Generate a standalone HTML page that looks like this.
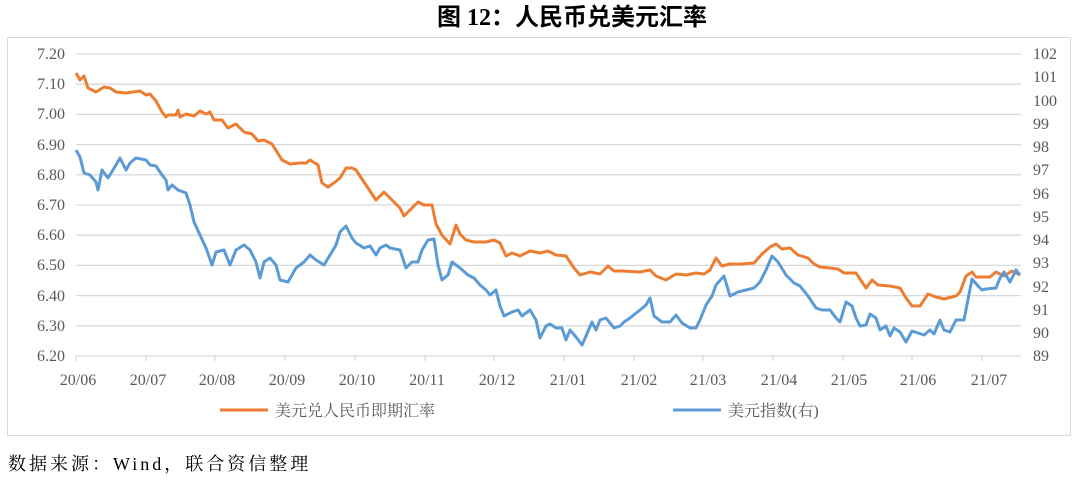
<!DOCTYPE html>
<html><head><meta charset="utf-8"><style>
body{margin:0;background:#fff;width:1080px;height:478px;overflow:hidden}
svg text{font-family:"Liberation Serif","Noto Serif CJK SC",serif;fill:#595959}
</style></head><body>
<svg width="1080" height="478" viewBox="0 0 1080 478">
<text x="572" y="25" text-anchor="middle" style="font-family:'Liberation Serif','Noto Sans CJK SC',sans-serif;font-weight:bold;font-size:24px;fill:#000">图 12：人民币兑美元汇率</text>
<rect x="7.5" y="37.5" width="1063" height="398" fill="none" stroke="#d9d9d9"/>
<g stroke="#d9d9d9" stroke-width="1.3">
<line x1="76" x2="1021" y1="54" y2="54"/><line x1="76" x2="1021" y1="84.2" y2="84.2"/><line x1="76" x2="1021" y1="114.4" y2="114.4"/><line x1="76" x2="1021" y1="144.6" y2="144.6"/><line x1="76" x2="1021" y1="174.8" y2="174.8"/><line x1="76" x2="1021" y1="205" y2="205"/><line x1="76" x2="1021" y1="235.2" y2="235.2"/><line x1="76" x2="1021" y1="265.4" y2="265.4"/><line x1="76" x2="1021" y1="295.6" y2="295.6"/><line x1="76" x2="1021" y1="325.8" y2="325.8"/><line x1="76" x2="1021" y1="356" y2="356"/>
<line x1="76" x2="76" y1="356" y2="361"/><line x1="146" x2="146" y1="356" y2="361"/><line x1="215" x2="215" y1="356" y2="361"/><line x1="285" x2="285" y1="356" y2="361"/><line x1="355" x2="355" y1="356" y2="361"/><line x1="425" x2="425" y1="356" y2="361"/><line x1="494" x2="494" y1="356" y2="361"/><line x1="564" x2="564" y1="356" y2="361"/><line x1="634" x2="634" y1="356" y2="361"/><line x1="703" x2="703" y1="356" y2="361"/><line x1="773" x2="773" y1="356" y2="361"/><line x1="843" x2="843" y1="356" y2="361"/><line x1="912" x2="912" y1="356" y2="361"/><line x1="982" x2="982" y1="356" y2="361"/>
</g>
<g font-size="16" text-anchor="end">
<text x="65" y="59">7.20</text><text x="65" y="89">7.10</text><text x="65" y="119">7.00</text><text x="65" y="150">6.90</text><text x="65" y="180">6.80</text><text x="65" y="210">6.70</text><text x="65" y="240">6.60</text><text x="65" y="270">6.50</text><text x="65" y="301">6.40</text><text x="65" y="331">6.30</text><text x="65" y="361">6.20</text>
</g>
<g font-size="16">
<text x="1033" y="59">102</text><text x="1033" y="82">101</text><text x="1033" y="106">100</text><text x="1033" y="129">99</text><text x="1033" y="152">98</text><text x="1033" y="175">97</text><text x="1033" y="199">96</text><text x="1033" y="222">95</text><text x="1033" y="245">94</text><text x="1033" y="268">93</text><text x="1033" y="292">92</text><text x="1033" y="315">91</text><text x="1033" y="338">90</text><text x="1033" y="361">89</text>
</g>
<g font-size="16" text-anchor="middle">
<text x="78" y="385">20/06</text><text x="148" y="385">20/07</text><text x="217" y="385">20/08</text><text x="287" y="385">20/09</text><text x="357" y="385">20/10</text><text x="427" y="385">20/11</text><text x="497" y="385">20/12</text><text x="568" y="385">21/01</text><text x="639" y="385">21/02</text><text x="708" y="385">21/03</text><text x="779" y="385">21/04</text><text x="849" y="385">21/05</text><text x="918" y="385">21/06</text><text x="989" y="385">21/07</text>
</g>
<polyline fill="none" stroke="#ed7d31" stroke-width="3" stroke-linejoin="round" points="76,73 80,80 84,76 88,88 96,92 104,87 110,88 116,92 126,93 140,91 146,95 150,94 156,101 162,112 166,117 168,115 176,115 178,110 180,117 186,114 194,116 200,111 206,114 210,112 214,120 222,120 228,128 236,124 244,132 252,134 258,141 264,140 272,144 282,160 290,164 300,163 306,163 310,160 318,165 322,183 328,187 334,183 340,178 346,168 352,168 356,170 366,185 376,200 384,192 392,200 400,208 404,216 410,210 418,202 424,205 432,205 436,224 442,235 450,244 456,225 460,234 466,240 474,242 486,242 494,240 500,243 506,256 512,253 520,256 530,251 540,253 548,251 556,255 566,256 574,268 580,275 590,272 600,274 608,266 614,271 622,271 640,272 650,270 656,276 666,280 676,274 686,275 696,273 704,274 710,270 716,258 722,266 730,264 740,264 754,263 762,254 770,247 776,244 782,249 790,248 798,255 808,258 814,264 820,267 830,268 838,269 844,273 856,273 866,288 872,280 878,285 890,286 900,288 906,298 912,306 920,306 928,294 936,297 944,299 956,296 960,292 966,276 972,272 976,277 990,277 996,272 1004,276 1012,271 1020,275"/>
<polyline fill="none" stroke="#5b9bd5" stroke-width="3" stroke-linejoin="round" points="76,150 80,157 84,173 90,175 96,182 98,190 102,170 108,178 116,165 120,158 126,170 130,163 136,158 146,160 150,165 156,166 162,175 166,180 168,190 172,185 178,190 186,193 190,205 194,222 200,235 206,248 212,265 216,252 224,250 230,265 236,250 244,245 250,250 256,262 260,278 264,262 270,258 276,265 280,280 288,282 296,268 304,262 310,255 316,260 324,265 330,255 336,245 340,232 346,226 352,238 356,243 364,248 370,246 376,255 380,248 386,245 390,248 400,250 406,268 412,262 418,262 422,250 428,240 434,239 438,265 442,280 448,275 452,262 460,268 468,275 474,278 480,285 486,290 490,295 496,290 500,306 504,316 512,312 518,310 522,316 530,310 536,320 540,338 546,326 550,324 556,328 562,328 566,340 570,330 576,337 582,345 586,336 592,322 596,330 600,320 606,318 614,328 620,326 624,322 630,318 640,310 646,305 650,298 654,316 662,322 670,322 676,315 682,323 690,328 696,328 700,320 706,305 712,296 716,285 724,276 730,296 738,292 746,290 754,288 760,282 766,270 772,256 778,262 786,275 794,283 800,286 808,296 816,308 822,310 830,310 836,318 840,322 846,302 852,306 856,318 860,326 866,325 870,314 876,318 880,330 886,326 890,336 894,328 900,332 906,342 912,331 918,333 924,335 930,330 934,334 940,320 944,330 950,332 956,320 964,320 972,279 978,286 982,290 986,289 996,288 1000,278 1004,272 1010,282 1016,270 1020,275"/>
<line x1="220" x2="268" y1="410" y2="410" stroke="#ed7d31" stroke-width="3"/>
<text x="275" y="416" font-size="16">美元兑人民币即期汇率</text>
<line x1="673" x2="721" y1="410" y2="410" stroke="#5b9bd5" stroke-width="3"/>
<text x="728" y="416" font-size="16">美元指数(右)</text>
<text x="8" y="470" font-size="18" letter-spacing="3" style="fill:#000">数据来源：Wind，联合资信整理</text>
</svg>
</body></html>
